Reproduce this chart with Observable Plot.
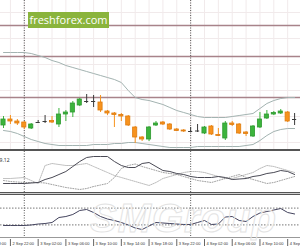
<!DOCTYPE html>
<html><head><meta charset="utf-8">
<script src="https://cdn.jsdelivr.net/npm/d3@7"></script>
<script src="https://cdn.jsdelivr.net/npm/@observablehq/plot@0.6"></script>
<style>
html,body{margin:0;padding:0;background:#fff;overflow:hidden;}
#wrap{position:relative;width:300px;height:250px;overflow:hidden;font-family:"Liberation Sans",Arial,sans-serif;background:#fff;}
#wrap svg{display:block;overflow:visible;}
.sep1{height:2px;background:#555;}
.sep2{height:3px;background:linear-gradient(#555 0 1px,#cfcfcf 1px 2px,#555 2px 3px);}
#logo{position:absolute;left:28px;top:12px;width:81px;height:16px;background:#8ab43c;color:#fff;font:11px "Open Sans",sans-serif;line-height:16px;text-align:center;}
#wm{position:absolute;left:90px;top:196px;font:bold italic 40px "Liberation Sans",sans-serif;color:rgba(0,0,0,0);-webkit-text-stroke:1px #e3e3e3;letter-spacing:1px;pointer-events:none;white-space:nowrap;}
</style></head><body><div id="wrap"></div>
<script>
// ---- data (hourly bars, first bar 2 Sep 21:00) ----
const firstBar = "2019-09-02T21:00Z";
const timeRange = ["2019-09-02T20:34Z", "2019-09-04T15:51Z"];
const open  = [1.1075,1.1081,1.1079,1.1078,1.1072,1.1078,1.1079,1.10795,1.1076,1.1086,1.1088,1.1095,1.1099,1.1099,1.1098,1.1089,1.1087,1.10855,1.1084,1.1073,1.1063,1.1061,1.1075,1.1078,1.1076,1.1071,1.1070,1.1069,1.10695,1.1067,1.1074,1.10655,1.1062,1.1077,1.1076,1.1068,1.1064,1.1073,1.1082,1.1086,1.1087,1.1088,1.1081];
const high  = [1.1084,1.1085,1.1081,1.1079,1.1077,1.1080,1.1085,1.1084,1.1092,1.1090,1.1099,1.1102,1.1106,1.1105,1.1105,1.1090,1.1088,1.1087,1.1085,1.1074,1.1064,1.1074,1.1079,1.1079,1.1077,1.1072,1.1071,1.1073,1.1076,1.1074,1.1075,1.1072,1.1079,1.1079,1.1077,1.1069,1.1075,1.1088,1.1090,1.1089,1.1091,1.1089,1.1087];
const low   = [1.1072,1.1076,1.1075,1.1071,1.1071,1.1077,1.1077,1.1077,1.1073,1.1079,1.1083,1.1094,1.1097,1.1093,1.1088,1.1085,1.1073,1.1079,1.1074,1.1057,1.1059,1.1059,1.1074,1.1075,1.1070,1.1069,1.1068,1.1068,1.1068,1.1066,1.1065,1.1064,1.1060,1.1074,1.1066,1.1064,1.1063,1.1072,1.1081,1.1085,1.1086,1.1078,1.1075];
const close = [1.1081,1.1079,1.1077,1.1073,1.1076,1.1078,1.1079,1.1078,1.1086,1.1088,1.1097,1.1101,1.1099,1.1099,1.1090,1.1087,1.10855,1.1084,1.1075,1.1063,1.1061,1.1073,1.1077,1.1076,1.1071,1.10695,1.1069,1.1069,1.10695,1.1073,1.1066,1.10645,1.1077,1.10755,1.1067,1.10665,1.1074,1.1081,1.1086,1.10875,1.1089,1.1079,1.1081];
const bandUpper = [1.1148,1.1148,1.1148,1.1148,1.1147,1.1145,1.1143,1.1140,1.1138,1.1135,1.1133,1.1131,1.1129,1.1127,1.1125,1.1123,1.1121,1.1118,1.1110,1.1103,1.1101,1.1100,1.1098,1.1096,1.1093,1.1090,1.1088,1.1086,1.1084,1.1083,1.1083,1.1083,1.1083,1.1084,1.1085,1.1086,1.1087,1.1092,1.1097,1.1100,1.1102,1.1103,1.1103];
const bandLower = [1.1070,1.1069,1.1067,1.1064,1.1061,1.1059,1.1057,1.1056,1.1055,1.1055,1.1055,1.1055,1.1055,1.1056,1.1056,1.1056,1.1057,1.1057,1.1058,1.1058,1.1057,1.1056,1.1055,1.1054,1.1053,1.1053,1.1053,1.1053,1.1054,1.1054,1.1054,1.1054,1.1054,1.1054,1.1054,1.1055,1.1056,1.1060,1.1065,1.1069,1.1071,1.1072,1.1072];
const adx     = [10,10,10,10,10.5,11,14,16,19,22,27,32,36,37,37,37,32,28,26,26,30,31,27,23,22,20,19,17,16,16,16,17,16,14,14.5,15,17,18,20,21,23,22,19];
const plusDI  = [15,15,15.5,16,13,10,28,30,29,28,28,29,30,27,24,21,18,16,14,12,10,8,11,15,17,19,21,22,22,21,19,17,15,15,17,19,21,25,28,27,25,23,21];
const minusDI = [13,12,11.5,11,11,11,10.5,9,7.5,6,5,4,5,7,8.5,10,16,25,28,29.5,27,25,23,21,20,19,17,15,13,12,11,13,15,17,19,16,14,12,10,11,13,15,17];
const rsi = [28.6,28.6,28.6,28.6,29.8,32.1,33.3,35.7,47.6,50,54.8,64.3,66.7,59.5,50,44,40.5,35.7,29.8,22.6,19,27.4,35.7,34.5,33.3,32.1,31,31,35.7,40.5,31,32.1,48.8,50,40.5,38.1,50,58.3,61.9,65.5,69,59.5,56];
const srLevels = [1.1175, 1.1144, 1.1103];
const gridPrices = [1.1188, 1.1162, 1.1136, 1.1110, 1.1084, 1.1058];
const daySeparators = ["2019-09-03T00:00Z", "2019-09-04T00:00Z"];
const tickTimes = ["2019-09-02T18:00Z","2019-09-02T22:00Z","2019-09-03T02:00Z","2019-09-03T06:00Z","2019-09-03T10:00Z","2019-09-03T14:00Z","2019-09-03T18:00Z","2019-09-03T22:00Z","2019-09-04T02:00Z","2019-09-04T06:00Z","2019-09-04T10:00Z","2019-09-04T14:00Z"];
const gridTimes = ["2019-09-02T22:00Z","2019-09-03T00:00Z","2019-09-03T02:00Z","2019-09-03T04:00Z","2019-09-03T06:00Z","2019-09-03T08:00Z","2019-09-03T10:00Z","2019-09-03T12:00Z","2019-09-03T14:00Z","2019-09-03T16:00Z","2019-09-03T18:00Z","2019-09-03T20:00Z","2019-09-03T22:00Z","2019-09-04T00:00Z","2019-09-04T02:00Z","2019-09-04T04:00Z","2019-09-04T06:00Z","2019-09-04T08:00Z","2019-09-04T10:00Z","2019-09-04T12:00Z","2019-09-04T14:00Z"];
const rsiLevels = [30, 70];
const adxLabel = ["ADX(14) 19.12"];

// ---- styles ----
const GREEN = "#3cb43c", ORANGE = "#f7931e", DOJI = "#3a3a3a", BAND = "#a3b3b1", SR = "#a8838a", GRID = "#f1eaeb", SEP = "#555";
const HOUR = 3600e3, HALF = 18 * 60e3;
const t0 = +new Date(firstBar);
const bars = open.map((o, i) => ({
  t: new Date(t0 + i * HOUR), o, h: high[i], l: low[i], c: close[i],
  up: bandUpper[i], lo: bandLower[i], adx: adx[i], pdi: plusDI[i], mdi: minusDI[i], rsi: rsi[i]
}));
const toDate = s => new Date(s);
const X = {type: "utc", domain: timeRange.map(toDate), axis: null};
const seps = daySeparators.map(toDate);
const fmt = d3.utcFormat("%-d %b %H:%M");
const bull = d => d.c > d.o, bear = d => d.c < d.o, doji = d => d.c === d.o;

const main = Plot.plot({
  width: 300, height: 149, margin: 0, x: X,
  y: {domain: [1.1051, 1.1200], axis: null},
  marks: [
    Plot.ruleX(gridTimes.map(toDate), {stroke: GRID}),
    Plot.ruleY(gridPrices, {stroke: GRID}),
    Plot.ruleY(srLevels, {stroke: SR, strokeWidth: 1.5}),
    Plot.ruleX(seps, {stroke: SEP, strokeDasharray: "1,1.5"}),
    Plot.line(bars, {x: "t", y: "up", stroke: BAND, strokeWidth: 1}),
    Plot.line(bars, {x: "t", y: "lo", stroke: BAND, strokeWidth: 1}),
    Plot.ruleX(bars, {filter: bull, x: "t", y1: "l", y2: "h", stroke: GREEN}),
    Plot.ruleX(bars, {filter: bear, x: "t", y1: "l", y2: "h", stroke: ORANGE}),
    Plot.ruleX(bars, {filter: doji, x: "t", y1: "l", y2: "h", stroke: DOJI}),
    Plot.rect(bars, {filter: bull, x1: d => new Date(+d.t - HALF), x2: d => new Date(+d.t + HALF), y1: "o", y2: "c", fill: GREEN, stroke: "#2f9a30", strokeWidth: 0.8}),
    Plot.rect(bars, {filter: bear, x1: d => new Date(+d.t - HALF), x2: d => new Date(+d.t + HALF), y1: "o", y2: "c", fill: ORANGE, stroke: "#de7c10", strokeWidth: 0.8}),
    Plot.ruleY(bars, {filter: doji, x1: d => new Date(+d.t - HALF), x2: d => new Date(+d.t + HALF), y: "o", stroke: DOJI})
  ]
});

const sep1 = document.createElement("div"); sep1.className = "sep1";

const adxPlot = Plot.plot({
  width: 300, height: 41, margin: 0, x: X,
  y: {domain: [1, 42], axis: null},
  marks: [
    Plot.ruleX(seps, {stroke: SEP, strokeDasharray: "1,1.5"}),
    Plot.line(bars, {x: "t", y: "pdi", stroke: "#aaaaaa", strokeWidth: 0.8, strokeDasharray: "1,1"}),
    Plot.line(bars, {x: "t", y: "mdi", stroke: "#888", strokeWidth: 0.8, strokeDasharray: "1,1.5"}),
    Plot.line(bars, {x: "t", y: "adx", stroke: "#4a4a55", strokeWidth: 1}),
    Plot.text(adxLabel, {frameAnchor: "top-left", textAnchor: "end", dx: 9, dy: 7, fontSize: 5, fill: "#333"})
  ]
});

const sep2 = document.createElement("div"); sep2.className = "sep2";

const rsiPlot = Plot.plot({
  width: 300, height: 55, marginTop: 0, marginLeft: 0, marginRight: 0, marginBottom: 13, x: X,
  y: {domain: [0, 100], axis: null},
  marks: [
    Plot.ruleY(rsiLevels, {stroke: "#777", strokeDasharray: "1.5,1.5"}),
    Plot.ruleX(seps, {stroke: SEP, strokeDasharray: "1,1.5"}),
    Plot.line(bars, {x: "t", y: "rsi", stroke: "#44445e", strokeWidth: 1}),
    Plot.ruleY([0], {stroke: "#999"}),
    Plot.ruleX(tickTimes.map(toDate), {stroke: "#666", insetTop: 35, dy: 9}),
    Plot.text(tickTimes.map(toDate), {x: d => d, text: d => fmt(d), frameAnchor: "bottom", textAnchor: "start", dx: 2, dy: 7, fontSize: 4, fill: "#333", fontFamily: "Liberation Sans"})
  ]
});

const logo = document.createElement("div"); logo.id = "logo"; logo.textContent = "freshforex.com";
const wm = document.createElement("div"); wm.id = "wm"; wm.textContent = "SMGroup";
document.getElementById("wrap").append(main, sep1, adxPlot, sep2, rsiPlot, wm, logo);
</script></body></html>
